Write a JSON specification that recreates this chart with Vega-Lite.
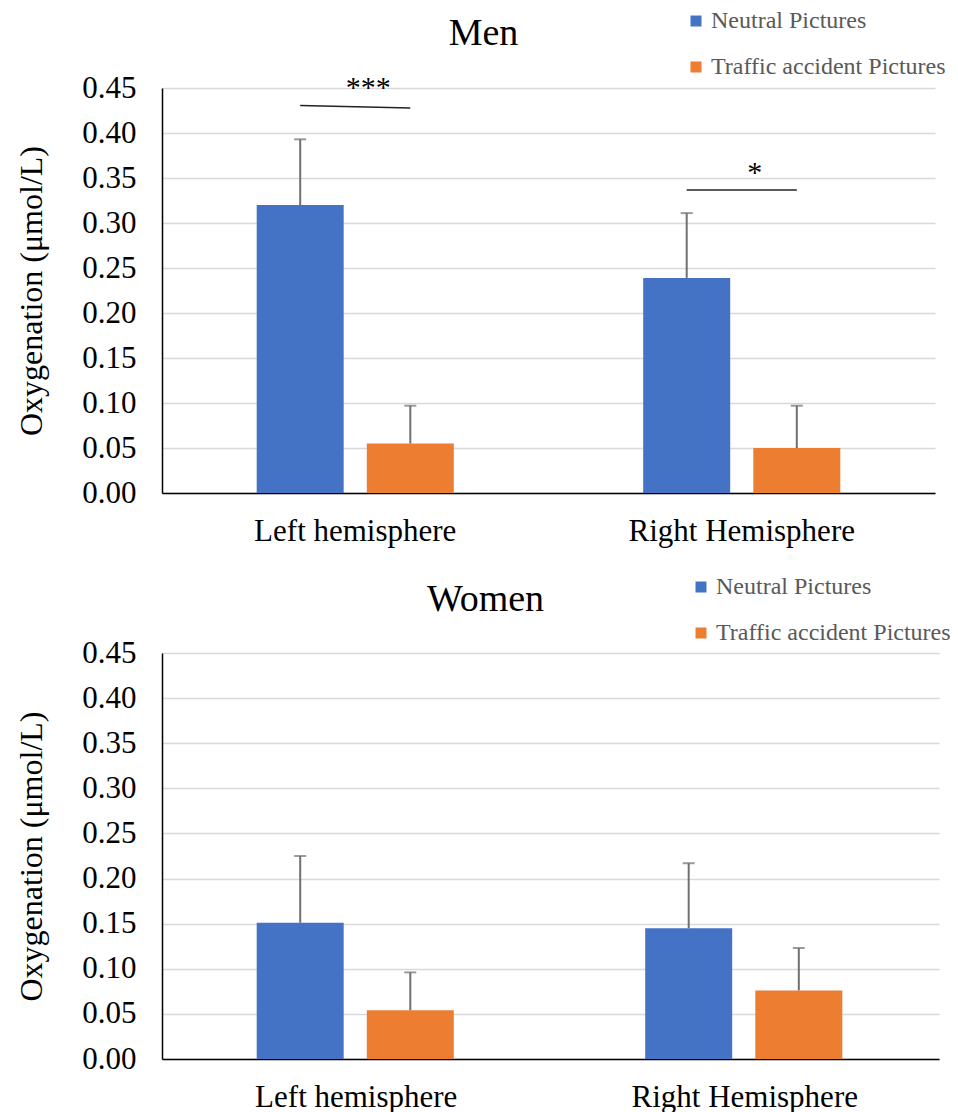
{
  "$schema": "https://vega.github.io/schema/vega-lite/v6.json",
  "padding": {"left": 15, "top": 9, "right": 0, "bottom": 0},
  "background": "white",
  "spacing": 29,
  "config": {
    "view": {"stroke": null},
    "font": "Liberation Serif",
    "axis": {
      "labelFont": "Liberation Serif",
      "labelFontSize": 31,
      "labelColor": "#000000",
      "labelLimit": 0,
      "domainColor": "#000000",
      "domainWidth": 1.5,
      "ticks": false,
      "gridColor": "#d9d9d9",
      "gridWidth": 1.5,
      "titleFont": "Liberation Serif",
      "titleFontSize": 32,
      "titleFontWeight": "normal",
      "titleColor": "#000000"
    },
    "title": {
      "font": "Liberation Serif",
      "fontSize": 38,
      "fontWeight": "normal",
      "color": "#000000",
      "anchor": "middle",
      "dx": -65,
      "offset": -44
    },
    "legend": {
      "orient": "none",
      "title": null,
      "symbolType": "square",
      "symbolSize": 121,
      "symbolStrokeWidth": 0,
      "labelFont": "Liberation Serif",
      "labelFontSize": 24,
      "labelColor": "#595959",
      "labelLimit": 0,
      "labelOffset": 3,
      "rowPadding": 22,
      "padding": 0,
      "offset": 0
    }
  },
  "datasets": {
    "bars": [
      {"sex": "Men", "hemisphere": "Left hemisphere", "condition": "Neutral Pictures", "mean": 0.32, "upper": 0.393},
      {"sex": "Men", "hemisphere": "Left hemisphere", "condition": "Traffic accident Pictures", "mean": 0.055, "upper": 0.097},
      {"sex": "Men", "hemisphere": "Right Hemisphere", "condition": "Neutral Pictures", "mean": 0.239, "upper": 0.311},
      {"sex": "Men", "hemisphere": "Right Hemisphere", "condition": "Traffic accident Pictures", "mean": 0.05, "upper": 0.097},
      {"sex": "Women", "hemisphere": "Left hemisphere", "condition": "Neutral Pictures", "mean": 0.151, "upper": 0.225},
      {"sex": "Women", "hemisphere": "Left hemisphere", "condition": "Traffic accident Pictures", "mean": 0.054, "upper": 0.096},
      {"sex": "Women", "hemisphere": "Right Hemisphere", "condition": "Neutral Pictures", "mean": 0.145, "upper": 0.217},
      {"sex": "Women", "hemisphere": "Right Hemisphere", "condition": "Traffic accident Pictures", "mean": 0.076, "upper": 0.123}
    ],
    "sig": [
      {"sex": "Men", "hemisphere": "Left hemisphere", "condition": "Neutral Pictures", "y": 0.4306, "label": "***"},
      {"sex": "Men", "hemisphere": "Left hemisphere", "condition": "Traffic accident Pictures", "y": 0.4278, "label": "***"},
      {"sex": "Men", "hemisphere": "Right Hemisphere", "condition": "Neutral Pictures", "y": 0.3367, "label": "*"},
      {"sex": "Men", "hemisphere": "Right Hemisphere", "condition": "Traffic accident Pictures", "y": 0.3367, "label": "*"}
    ]
  },
  "resolve": {"scale": {"color": "independent"}, "legend": {"color": "independent"}},
  "vconcat": [
    {
      "title": {"text": "Men"},
      "width": 773,
      "height": 405,
      "layer": [
        {
          "data": {"name": "bars"},
          "transform": [{"filter": "datum.sex === 'Men'"}],
          "mark": {"type": "bar"},
          "encoding": {
            "x": {"field": "hemisphere", "type": "nominal", "sort": ["Left hemisphere", "Right Hemisphere"], "scale": {"paddingInner": 0, "paddingOuter": 0}, "axis": {"title": null, "labelAngle": 0, "labelPadding": 23, "grid": false}},
            "xOffset": {"field": "condition", "type": "nominal", "sort": ["Neutral Pictures", "Traffic accident Pictures"], "scale": {"paddingInner": 0.21, "paddingOuter": 0.86}},
            "y": {"field": "mean", "type": "quantitative", "title": "Oxygenation (μmol/L)", "scale": {"domain": [0, 0.45], "nice": false}, "axis": {"values": [0, 0.05, 0.1, 0.15, 0.2, 0.25, 0.3, 0.35, 0.4, 0.45], "format": ".2f", "labelPadding": 26, "titlePadding": 33}},
            "color": {"field": "condition", "type": "nominal", "scale": {"domain": ["Neutral Pictures", "Traffic accident Pictures"], "range": ["#4472C4", "#ED7D31"]}, "legend": {"legendX": 522, "legendY": -79}}
          }
        },
        {
          "data": {"name": "bars"},
          "transform": [{"filter": "datum.sex === 'Men'"}],
          "mark": {"type": "rule", "color": "#707070", "strokeWidth": 2},
          "encoding": {
            "x": {"field": "hemisphere", "type": "nominal", "sort": ["Left hemisphere", "Right Hemisphere"]},
            "xOffset": {"field": "condition", "type": "nominal", "sort": ["Neutral Pictures", "Traffic accident Pictures"]},
            "y": {"field": "mean", "type": "quantitative", "title": "Oxygenation (μmol/L)"},
            "y2": {"field": "upper"}
          }
        },
        {
          "data": {"name": "bars"},
          "transform": [{"filter": "datum.sex === 'Men'"}],
          "mark": {"type": "tick", "color": "#707070", "thickness": 2, "size": 12},
          "encoding": {
            "x": {"field": "hemisphere", "type": "nominal", "sort": ["Left hemisphere", "Right Hemisphere"]},
            "xOffset": {"field": "condition", "type": "nominal", "sort": ["Neutral Pictures", "Traffic accident Pictures"]},
            "y": {"field": "upper", "type": "quantitative", "title": "Oxygenation (μmol/L)"}
          }
        },
        {
          "data": {"name": "sig"},
          "transform": [{"filter": "datum.sex === 'Men'"}],
          "mark": {"type": "line", "color": "#222222", "strokeWidth": 1.5, "clip": false},
          "encoding": {
            "x": {"field": "hemisphere", "type": "nominal", "sort": ["Left hemisphere", "Right Hemisphere"]},
            "xOffset": {"field": "condition", "type": "nominal", "sort": ["Neutral Pictures", "Traffic accident Pictures"]},
            "y": {"field": "y", "type": "quantitative", "title": "Oxygenation (μmol/L)"},
            "detail": {"field": "hemisphere"}
          }
        },
        {
          "data": {"name": "sig"},
          "transform": [{"filter": "datum.sex === 'Men' && datum.condition === 'Neutral Pictures'"}],
          "mark": {"type": "text", "font": "Liberation Serif", "fontSize": 30, "color": "#000000", "baseline": "alphabetic", "dy": -8, "dx": 13, "clip": false},
          "encoding": {
            "x": {"field": "hemisphere", "type": "nominal", "sort": ["Left hemisphere", "Right Hemisphere"]},
            "y": {"field": "y", "type": "quantitative", "title": "Oxygenation (μmol/L)"},
            "text": {"field": "label"}
          }
        }
      ]
    },
    {
      "title": {"text": "Women"},
      "width": 777,
      "height": 406,
      "layer": [
        {
          "data": {"name": "bars"},
          "transform": [{"filter": "datum.sex === 'Women'"}],
          "mark": {"type": "bar"},
          "encoding": {
            "x": {"field": "hemisphere", "type": "nominal", "sort": ["Left hemisphere", "Right Hemisphere"], "scale": {"paddingInner": 0, "paddingOuter": 0}, "axis": {"title": null, "labelAngle": 0, "labelPadding": 23, "grid": false}},
            "xOffset": {"field": "condition", "type": "nominal", "sort": ["Neutral Pictures", "Traffic accident Pictures"], "scale": {"paddingInner": 0.21, "paddingOuter": 0.86}},
            "y": {"field": "mean", "type": "quantitative", "title": "Oxygenation (μmol/L)", "scale": {"domain": [0, 0.45], "nice": false}, "axis": {"values": [0, 0.05, 0.1, 0.15, 0.2, 0.25, 0.3, 0.35, 0.4, 0.45], "format": ".2f", "labelPadding": 26, "titlePadding": 33}},
            "color": {"field": "condition", "type": "nominal", "scale": {"domain": ["Neutral Pictures", "Traffic accident Pictures"], "range": ["#4472C4", "#ED7D31"]}, "legend": {"legendX": 527, "legendY": -78}}
          }
        },
        {
          "data": {"name": "bars"},
          "transform": [{"filter": "datum.sex === 'Women'"}],
          "mark": {"type": "rule", "color": "#707070", "strokeWidth": 2},
          "encoding": {
            "x": {"field": "hemisphere", "type": "nominal", "sort": ["Left hemisphere", "Right Hemisphere"]},
            "xOffset": {"field": "condition", "type": "nominal", "sort": ["Neutral Pictures", "Traffic accident Pictures"]},
            "y": {"field": "mean", "type": "quantitative", "title": "Oxygenation (μmol/L)"},
            "y2": {"field": "upper"}
          }
        },
        {
          "data": {"name": "bars"},
          "transform": [{"filter": "datum.sex === 'Women'"}],
          "mark": {"type": "tick", "color": "#707070", "thickness": 2, "size": 12},
          "encoding": {
            "x": {"field": "hemisphere", "type": "nominal", "sort": ["Left hemisphere", "Right Hemisphere"]},
            "xOffset": {"field": "condition", "type": "nominal", "sort": ["Neutral Pictures", "Traffic accident Pictures"]},
            "y": {"field": "upper", "type": "quantitative", "title": "Oxygenation (μmol/L)"}
          }
        }
      ]
    }
  ]
}
